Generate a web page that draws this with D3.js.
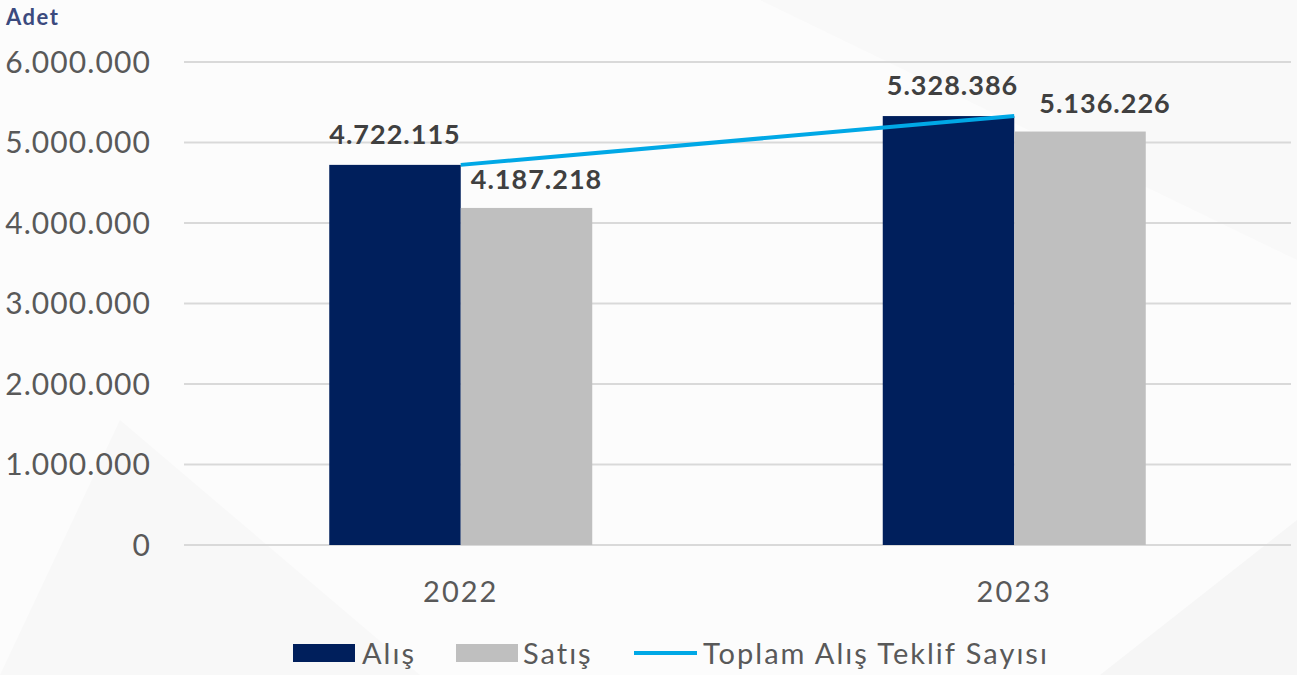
<!DOCTYPE html>
<html>
<head>
<meta charset="utf-8">
<script src="https://cdn.jsdelivr.net/npm/d3@7"></script>
<style>
  html, body { margin: 0; padding: 0; background: #fcfcfc; }
  svg { display: block; font-family: Lato, "Open Sans", sans-serif; }
</style>
</head>
<body>
<svg id="chart" width="1297" height="675"></svg>
<script>
const years = ['2022', '2023'];
const alis = [4722115, 5328386];
const satis = [4187218, 5136226];
const toplamAlis = [4722115, 5328386];
const yTicks = [0, 1000000, 2000000, 3000000, 4000000, 5000000, 6000000];

const width = 1297, height = 675;
const margin = { top: 62, right: 6, bottom: 130, left: 184 };

const svg = d3.select('#chart');

// faint background shapes
const bg = svg.append('g');
bg.append('rect').attr('width', width).attr('height', height).attr('fill', '#fcfcfc');
bg.append('path').attr('d', 'M0,675 L120,420 L420,675 Z').attr('fill', '#f8f8f8');
bg.append('path').attr('d', 'M760,0 L1297,0 L1297,260 Z').attr('fill', '#f9f9f9');
bg.append('path').attr('d', 'M1100,675 L1297,520 L1297,675 Z').attr('fill', '#f6f6f6');

const fmt = v => d3.format(',')(v).replace(/,/g, '.');

const x = d3.scaleBand().domain(years).range([margin.left, width - margin.right]);
const y = d3.scaleLinear().domain([0, 6000000]).range([height - margin.bottom, margin.top]);

// gridlines + y labels
const grid = svg.append('g');
grid.selectAll('line').data(yTicks).join('line')
  .attr('x1', margin.left).attr('x2', width - margin.right)
  .attr('y1', d => y(d)).attr('y2', d => y(d))
  .attr('stroke', '#d9d9d9').attr('stroke-width', 2);
grid.selectAll('text').data(yTicks).join('text')
  .attr('x', 151).attr('y', d => y(d)).attr('dy', '0.36em')
  .attr('text-anchor', 'end').attr('font-size', 30)
  .attr('letter-spacing', 1.1).attr('fill', '#595959')
  .text(d => fmt(d));

svg.append('text').attr('x', 6).attr('y', 25)
  .attr('font-size', 22).attr('font-weight', 'bold').attr('fill', '#3b4a7e')
  .attr('letter-spacing', 1.5)
  .text('Adet');

const barW = 131.5;
const sub = d3.scaleBand().domain(['alis', 'satis']).range([0, barW * 2]);

const groups = svg.append('g').selectAll('g').data(years).join('g')
  .attr('transform', d => `translate(${x(d) + x.bandwidth() / 2 - barW},0)`);

groups.append('rect')
  .attr('x', sub('alis')).attr('width', sub.bandwidth())
  .attr('y', (d, i) => y(alis[i])).attr('height', (d, i) => y(0) - y(alis[i]))
  .attr('fill', '#001f5c');
groups.append('rect')
  .attr('x', sub('satis')).attr('width', sub.bandwidth())
  .attr('y', (d, i) => y(satis[i])).attr('height', (d, i) => y(0) - y(satis[i]))
  .attr('fill', '#bfbfbf');

// line
const line = d3.line().x((d, i) => x(years[i]) + x.bandwidth() / 2).y(d => y(d));
svg.append('path').datum(toplamAlis).attr('d', line)
  .attr('fill', 'none').attr('stroke', '#00a8e6').attr('stroke-width', 4);

// value labels (satış labels nudged right like the original, to clear the line)
const alisShift = [0, 4];
const satisShift = [10, 25];
groups.append('text')
  .attr('x', (d, i) => sub('alis') + sub.bandwidth() / 2 + alisShift[i]).attr('y', (d, i) => y(alis[i]) - 21)
  .attr('text-anchor', 'middle').attr('font-size', 27).attr('font-weight', 'bold')
  .attr('letter-spacing', 1).attr('fill', '#404040')
  .text((d, i) => fmt(alis[i]));
groups.append('text')
  .attr('x', (d, i) => sub('satis') + sub.bandwidth() / 2 + satisShift[i]).attr('y', (d, i) => y(satis[i]) - 19)
  .attr('text-anchor', 'middle').attr('font-size', 27).attr('font-weight', 'bold')
  .attr('letter-spacing', 1).attr('fill', '#404040')
  .text((d, i) => fmt(satis[i]));

// x labels
svg.append('g').selectAll('text').data(years).join('text')
  .attr('x', d => x(d) + x.bandwidth() / 2).attr('y', 602)
  .attr('text-anchor', 'middle').attr('font-size', 29).attr('fill', '#595959')
  .attr('letter-spacing', 2)
  .text(d => d);

// legend
const legend = svg.append('g').attr('font-size', 29)
  .attr('letter-spacing', 2).attr('fill', '#595959');
legend.append('rect').attr('x', 293).attr('y', 644).attr('width', 62).attr('height', 18).attr('fill', '#001f5c');
legend.append('text').attr('x', 362).attr('y', 664).text('Alış');
legend.append('rect').attr('x', 456).attr('y', 644).attr('width', 62).attr('height', 18).attr('fill', '#bfbfbf');
legend.append('text').attr('x', 523).attr('y', 664).text('Satış');
legend.append('line').attr('x1', 634).attr('x2', 697).attr('y1', 653).attr('y2', 653)
  .attr('stroke', '#00a8e6').attr('stroke-width', 4);
legend.append('text').attr('x', 703).attr('y', 664).text('Toplam Alış Teklif Sayısı');
</script>
</body>
</html>
